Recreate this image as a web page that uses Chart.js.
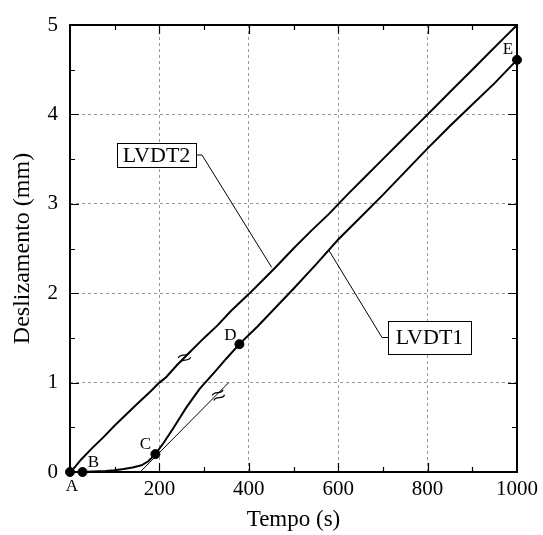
<!DOCTYPE html>
<html>
<head>
<meta charset="utf-8">
<script src="https://cdn.jsdelivr.net/npm/chart.js@4.4.1/dist/chart.umd.min.js"></script>
<style>
  html, body { margin: 0; padding: 0; background: #fff; }
  canvas { display: block; }
</style>
</head>
<body>
<canvas id="slipChart" width="543" height="535"></canvas>
<script>
// time (s) and slip (mm) for each transducer
const lvdt2Time = [0, 10, 25, 50, 75, 100, 125, 150, 180, 200, 215, 240, 270, 300, 330, 360, 400, 430, 460, 500, 540, 580, 620, 660, 700, 740, 780, 820, 860, 900, 940, 970, 1000];
const lvdt2Slip = [0, 0.05, 0.14, 0.27, 0.39, 0.52, 0.64, 0.76, 0.9, 1.0, 1.06, 1.2, 1.35, 1.5, 1.64, 1.8, 1.99, 2.14, 2.29, 2.5, 2.7, 2.89, 3.1, 3.3, 3.5, 3.7, 3.9, 4.1, 4.3, 4.5, 4.7, 4.85, 5.0];

const lvdt1Time = [0, 28, 50, 80, 100, 120, 140, 160, 175, 191, 210, 231, 260, 290, 324, 350, 379, 420, 460, 500, 550, 600, 650, 700, 750, 800, 850, 900, 950, 1000];
const lvdt1Slip = [0, 0, 0.005, 0.012, 0.02, 0.033, 0.05, 0.075, 0.12, 0.2, 0.33, 0.49, 0.72, 0.93, 1.12, 1.27, 1.43, 1.63, 1.84, 2.05, 2.32, 2.6, 2.85, 3.1, 3.36, 3.62, 3.87, 4.11, 4.35, 4.61];

// tangent drawn from the start of the second branch
const tangentTime = [157, 355];
const tangentSlip = [0, 1.0];

// labelled stages along LVDT1
const stageNames = ['A', 'B', 'C', 'D', 'E'];
const stageTime = [0, 28, 191, 379, 1000];
const stageSlip = [0, 0, 0.2, 1.43, 4.61];

const xTicks = [200, 400, 600, 800, 1000];
const yTicks = [0, 1, 2, 3, 4, 5];

const serif = '"Liberation Serif", "DejaVu Serif", serif';

function pts(xs, ys) {
  return xs.map((x, i) => ({ x: x, y: ys[i] }));
}

// small double-wave break mark
function breakMark(ctx, cx, cy) {
  ctx.save();
  ctx.translate(cx, cy);
  ctx.rotate(-0.3);
  ctx.lineWidth = 1.2;
  ctx.beginPath();
  [-2.6, 2.6].forEach(dy => {
    ctx.moveTo(-6, dy + 1.2);
    ctx.bezierCurveTo(-2.5, dy - 3.5, 2.5, dy + 3.5, 6, dy - 1.2);
  });
  ctx.stroke();
  ctx.restore();
}

const decorations = {
  id: 'decorations',
  afterDatasetsDraw(chart) {
    const { ctx, chartArea: a, scales: { x, y } } = chart;
    ctx.save();

    // inward ticks on all four sides
    ctx.strokeStyle = '#000';
    ctx.lineWidth = 1.2;
    ctx.beginPath();
    for (let v = 100; v < 1000; v += 100) {
      const px = Math.round(x.getPixelForValue(v)) + 0.5;
      const len = v % 200 === 0 ? 9 : 5;
      ctx.moveTo(px, a.bottom); ctx.lineTo(px, a.bottom - len);
      ctx.moveTo(px, a.top); ctx.lineTo(px, a.top + len);
    }
    for (let v = 0.5; v < 5; v += 0.5) {
      const py = Math.round(y.getPixelForValue(v)) + 0.5;
      const len = Number.isInteger(v) ? 9 : 5;
      ctx.moveTo(a.left, py); ctx.lineTo(a.left + len, py);
      ctx.moveTo(a.right, py); ctx.lineTo(a.right - len, py);
    }
    ctx.stroke();

    // plot frame
    ctx.lineWidth = 2;
    ctx.strokeRect(a.left, a.top, a.right - a.left, a.bottom - a.top);

    // stage letters
    const offs = [[2, 15], [11, -9], [-10, -10], [-9, -9], [-9, -10]];
    ctx.fillStyle = '#000';
    ctx.font = '17px ' + serif;
    ctx.textAlign = 'center';
    ctx.textBaseline = 'middle';
    stageNames.forEach((n, i) => {
      ctx.fillText(n, x.getPixelForValue(stageTime[i]) + offs[i][0], y.getPixelForValue(stageSlip[i]) + offs[i][1]);
    });

    // break marks on LVDT2 and on the tangent
    breakMark(ctx, x.getPixelForValue(256), y.getPixelForValue(1.28));
    breakMark(ctx, x.getPixelForValue(332), y.getPixelForValue(0.86));

    // boxed curve labels with leaders
    ctx.font = '22px ' + serif;
    ctx.lineWidth = 1;
    function callout(text, bx, by, w, h, elbowX, tipT, tipS, fromLeft) {
      ctx.fillStyle = '#fff';
      ctx.fillRect(bx, by, w, h);
      ctx.strokeRect(bx + 0.5, by + 0.5, w, h);
      ctx.fillStyle = '#000';
      ctx.fillText(text, bx + w / 2, by + h / 2 + 1);
      const sx = fromLeft ? bx : bx + w;
      const sy = by + h / 2;
      ctx.beginPath();
      ctx.moveTo(sx, sy);
      ctx.lineTo(elbowX, sy);
      ctx.lineTo(x.getPixelForValue(tipT), y.getPixelForValue(tipS));
      ctx.stroke();
    }
    callout('LVDT2', 117, 143, 79, 24, 202, 451, 2.29, false);
    callout('LVDT1', 388, 321, 83, 33, 382, 579, 2.48, true);

    ctx.restore();
  }
};

new Chart(document.getElementById('slipChart'), {
  type: 'line',
  data: {
    datasets: [
      { label: 'LVDT2', data: pts(lvdt2Time, lvdt2Slip), borderColor: '#000', borderWidth: 2, pointRadius: 0, tension: 0 },
      { label: 'LVDT1', data: pts(lvdt1Time, lvdt1Slip), borderColor: '#000', borderWidth: 2, pointRadius: 0, tension: 0 },
      { label: 'tangente', data: pts(tangentTime, tangentSlip), borderColor: '#000', borderWidth: 1, pointRadius: 0 },
      { label: 'pontos', data: pts(stageTime, stageSlip), showLine: false, pointRadius: 4.5, pointBackgroundColor: '#000', pointBorderColor: '#000', clip: false }
    ]
  },
  options: {
    responsive: false,
    animation: false,
    devicePixelRatio: 1,
    layout: { padding: { top: 25, right: 24 } },
    plugins: { legend: { display: false }, tooltip: { enabled: false } },
    scales: {
      x: {
        type: 'linear', min: 0, max: 1000,
        afterFit(s) { s.height = 63; },
        afterBuildTicks(s) { s.ticks = xTicks.map(v => ({ value: v })); },
        grid: { color: '#999', lineWidth: 1, drawTicks: false },
        border: { display: false, dash: [3, 3] },
        ticks: { color: '#000', padding: 5, font: { family: serif, size: 21 }, callback: v => String(v) },
        title: { display: true, text: 'Tempo (s)', color: '#000', font: { family: serif, size: 23 }, padding: { top: 0, bottom: 1 } }
      },
      y: {
        type: 'linear', min: 0, max: 5,
        afterFit(s) { s.width = 70; },
        afterBuildTicks(s) { s.ticks = yTicks.map(v => ({ value: v })); },
        grid: { color: '#999', lineWidth: 1, drawTicks: false },
        border: { display: false, dash: [3, 3] },
        ticks: { color: '#000', padding: 12, font: { family: serif, size: 21 }, callback: v => String(v) },
        title: { display: true, text: 'Deslizamento (mm)', color: '#000', font: { family: serif, size: 24 }, padding: { top: 8, bottom: 0 } }
      }
    }
  },
  plugins: [decorations]
});
</script>
</body>
</html>
